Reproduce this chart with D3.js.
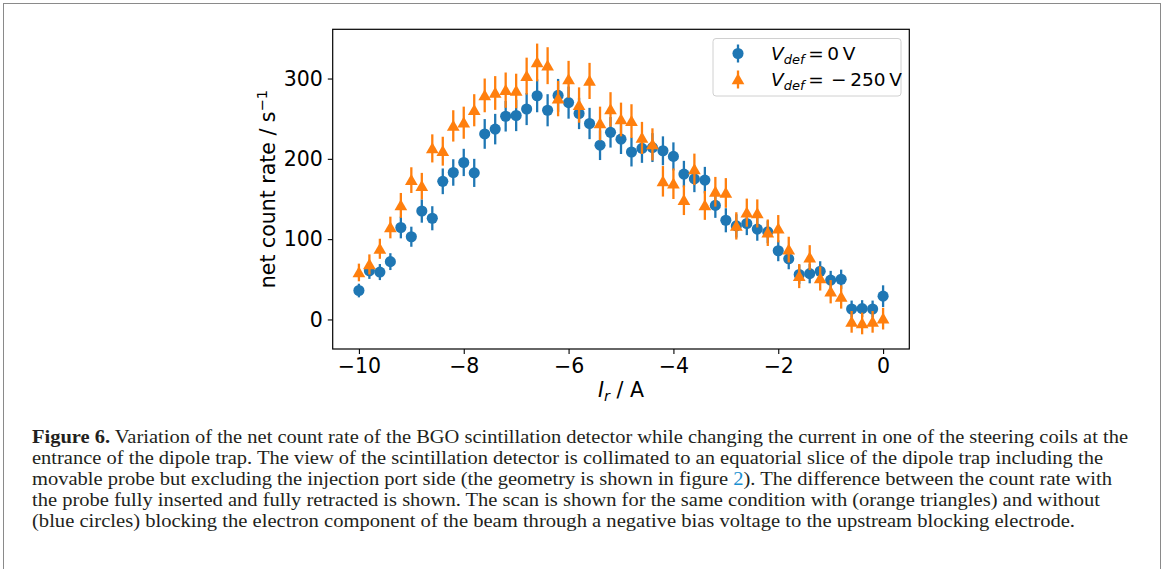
<!DOCTYPE html>
<html>
<head>
<meta charset="utf-8">
<script src="https://cdn.jsdelivr.net/npm/d3@7"></script>
<style>
  html, body { margin: 0; padding: 0; background: #ffffff; }
  svg { display: block; }
</style>
</head>
<body>
<svg id="chart" width="1165" height="569"></svg>
<script>
// ---------------- data ----------------
const currents = [-10, -9.8, -9.6, -9.4, -9.2, -9.0, -8.8, -8.6, -8.4, -8.2,
  -8.0, -7.8, -7.6, -7.4, -7.2, -7.0, -6.8, -6.6, -6.4, -6.2,
  -6.0, -5.8, -5.6, -5.4, -5.2, -5.0, -4.8, -4.6, -4.4, -4.2,
  -4.0, -3.8, -3.6, -3.4, -3.2, -3.0, -2.8, -2.6, -2.4, -2.2,
  -2.0, -1.8, -1.6, -1.4, -1.2, -1.0, -0.8, -0.6, -0.4, -0.2, 0];

const rate0V = [36, 60.5, 59, 72, 114.5, 103, 135, 126, 172, 183,
  195.5, 182.5, 231, 237, 253, 254, 262, 278.5, 260.5, 279,
  270, 256.5, 244, 217, 233, 224.5, 208.5, 213, 214, 210,
  203, 181, 175, 173.5, 142, 123.5, 116.5, 119.5, 112.5, 109,
  85.5, 75.5, 56, 57, 60, 49, 50, 13, 13.5, 13, 29];

const err0V = [8.5, 10, 10, 10.5, 13.5, 12.5, 14.5, 15, 16, 16.5,
  17, 17.5, 18.5, 19, 19, 19.5, 20, 20.5, 20, 20.5,
  20, 19.5, 19.5, 18.5, 19, 18.5, 18, 18, 18, 18,
  17.5, 16.5, 16.5, 16.5, 15.5, 15, 14.5, 14.5, 14.5, 14,
  13, 13, 12, 12, 12.5, 11.5, 12, 10.5, 10.5, 10.5, 13.5];

const rate250V = [58.5, 68.5, 88, 114.5, 142, 173.5, 166, 213, 209.5, 241,
  245, 260.5, 279, 282, 285.5, 284.5, 303, 320, 316, 275,
  299, 267, 297, 244, 261.5, 249, 247, 226, 218, 172,
  169, 148.5, 187, 142, 159, 157.5, 116.5, 133, 132, 108,
  113, 87, 54, 77, 51, 34.5, 28, -3, -5, -3, 1];

const err250V = [11, 12.5, 12.5, 13.5, 15.5, 16, 16.5, 17.5, 18, 19.5,
  20, 20, 21, 21, 22, 21.5, 23, 23.5, 23, 22,
  23, 22, 22.5, 21, 21.5, 21, 21, 20, 20, 19,
  19, 18.5, 19.5, 18, 18.5, 18.5, 17, 17.5, 17.5, 16.5,
  17, 16, 15, 15.5, 15, 14.5, 14.5, 13.5, 13.5, 13.5, 13.5];

const xTicks = [-10, -8, -6, -4, -2, 0];
const yTicks = [0, 100, 200, 300];
const xDomain = [-10.5, 0.5];
const yDomain = [-36.8, 361.3];

const captionLines = [
  [{t: "Figure 6.", b: true}, {t: " Variation of the net count rate of the BGO scintillation detector while changing the current in one of the steering coils at the"}],
  [{t: "entrance of the dipole trap. The view of the scintillation detector is collimated to an equatorial slice of the dipole trap including the"}],
  [{t: "movable probe but excluding the injection port side (the geometry is shown in figure "}, {t: "2", link: true}, {t: "). The difference between the count rate with"}],
  [{t: "the probe fully inserted and fully retracted is shown. The scan is shown for the same condition with (orange triangles) and without"}],
  [{t: "(blue circles) blocking the electron component of the beam through a negative bias voltage to the upstream blocking electrode."}]
];
const captionWidths = [1096, 1071, 1080, 1068, 1043];

// ---------------- drawing ----------------
const svg = d3.select("#chart");
const BLUE = "#1f77b4", ORANGE = "#ff7f0e";
const FONT = "DejaVu Sans, sans-serif";
const plot = {left: 332.7, right: 909.3, top: 29.3, bottom: 349};

// figure frame
svg.append("rect").attr("x", 3.5).attr("y", 3.5).attr("width", 1157).attr("height", 620)
  .attr("fill", "none").attr("stroke", "#8a8a8a").attr("stroke-width", 1);

const x = d3.scaleLinear().domain(xDomain).range([plot.left, plot.right]);
const y = d3.scaleLinear().domain(yDomain).range([plot.bottom, plot.top]);

// axes
const xAxis = d3.axisBottom(x).tickValues(xTicks).tickSize(4.9).tickPadding(4.9)
  .tickFormat(d => d3.format("d")(d).replace("-", "\u2212"));
const yAxis = d3.axisLeft(y).tickValues(yTicks).tickSize(4.9).tickPadding(4.9)
  .tickFormat(d3.format("d"));

const gx = svg.append("g").attr("transform", `translate(0,${plot.bottom})`).call(xAxis);
const gy = svg.append("g").attr("transform", `translate(${plot.left},0)`).call(yAxis);
[gx, gy].forEach(g => {
  g.select(".domain").remove();
  g.selectAll(".tick line").attr("stroke", "#000").attr("stroke-width", 1.1);
  g.selectAll(".tick text").attr("fill", "#000").attr("font-family", FONT).attr("font-size", 20.5);
});
gx.selectAll(".tick text").attr("dy", "0.71em");

// series
function drawSeries(vals, errs, color, shape) {
  const g = svg.append("g");
  g.selectAll("line.err").data(currents).join("line")
    .attr("x1", (d) => x(d)).attr("x2", (d) => x(d))
    .attr("y1", (d, i) => y(vals[i] - errs[i]))
    .attr("y2", (d, i) => y(vals[i] + errs[i]))
    .attr("stroke", color).attr("stroke-width", 2.3);
  const sym = d3.symbol().type(shape === "circle" ? d3.symbolCircle : d3.symbolTriangle)
    .size(shape === "circle" ? 97 : 70);
  g.selectAll("path.mk").data(currents).join("path")
    .attr("transform", (d, i) => `translate(${x(d)},${y(vals[i]) + (shape === "circle" ? 0 : 1.2)})`)
    .attr("d", sym).attr("fill", color);
}
drawSeries(rate0V, err0V, BLUE, "circle");
drawSeries(rate250V, err250V, ORANGE, "triangle");

// plot frame
svg.append("rect").attr("x", plot.left).attr("y", plot.top)
  .attr("width", plot.right - plot.left).attr("height", plot.bottom - plot.top)
  .attr("fill", "none").attr("stroke", "#000").attr("stroke-width", 1.2);

// axis labels
const xl = svg.append("text").attr("x", (plot.left + plot.right) / 2).attr("y", 397)
  .attr("text-anchor", "middle").attr("font-family", FONT).attr("font-size", 20.5).attr("fill", "#000");
xl.append("tspan").attr("font-style", "italic").text("I");
xl.append("tspan").attr("font-style", "italic").attr("font-size", 14.5).attr("dy", 4).text("r");
xl.append("tspan").attr("dy", -4).text(" / A");

const yl = svg.append("text")
  .attr("transform", `translate(275,${(plot.top + plot.bottom) / 2}) rotate(-90)`)
  .attr("text-anchor", "middle").attr("font-family", FONT).attr("font-size", 20.5).attr("fill", "#000");
yl.append("tspan").text("net count rate / s");
yl.append("tspan").attr("font-size", 14.5).attr("dy", -8).text("\u22121");

// legend
const lg = svg.append("g");
lg.append("rect").attr("x", 713).attr("y", 38.5).attr("width", 188).attr("height", 57.5)
  .attr("rx", 3).attr("fill", "#fff").attr("fill-opacity", 0.8)
  .attr("stroke", "#d0d0d0").attr("stroke-width", 1);
const legendItems = [
  {color: BLUE, shape: "circle", rhs: "\u2009=\u20090\u2009V", cy: 53.5},
  {color: ORANGE, shape: "triangle", rhs: "\u2009=\u2009\u2009\u2212\u2009250\u2009V", cy: 79.5}
];
legendItems.forEach(it => {
  lg.append("line").attr("x1", 738).attr("x2", 738).attr("y1", it.cy - 9).attr("y2", it.cy + 9)
    .attr("stroke", it.color).attr("stroke-width", 2.3);
  lg.append("path").attr("transform", `translate(738,${it.cy + (it.shape === "circle" ? 0 : 1.2)})`)
    .attr("d", d3.symbol().type(it.shape === "circle" ? d3.symbolCircle : d3.symbolTriangle)
      .size(it.shape === "circle" ? 97 : 70)())
    .attr("fill", it.color);
  const t = lg.append("text").attr("x", 771).attr("y", it.cy + 6.5)
    .attr("font-family", FONT).attr("font-size", 18.5).attr("fill", "#000");
  t.append("tspan").attr("font-style", "italic").text("V");
  t.append("tspan").attr("font-style", "italic").attr("font-size", 13).attr("dy", 4).text("def");
  t.append("tspan").attr("dy", -4).text(it.rhs);
});

// caption
captionLines.forEach((parts, i) => {
  const t = svg.append("text").attr("x", 32).attr("y", 443 + i * 21)
    .attr("font-family", "Liberation Serif, Times New Roman, serif").attr("font-size", 19.5)
    .attr("fill", "#231f20")
    .attr("textLength", captionWidths[i]).attr("lengthAdjust", "spacingAndGlyphs");
  parts.forEach(p => {
    const s = t.append("tspan").text(p.t);
    if (p.b) s.attr("font-weight", "bold");
    if (p.link) s.attr("fill", "#1a8fd0");
  });
});
</script>
</body>
</html>
